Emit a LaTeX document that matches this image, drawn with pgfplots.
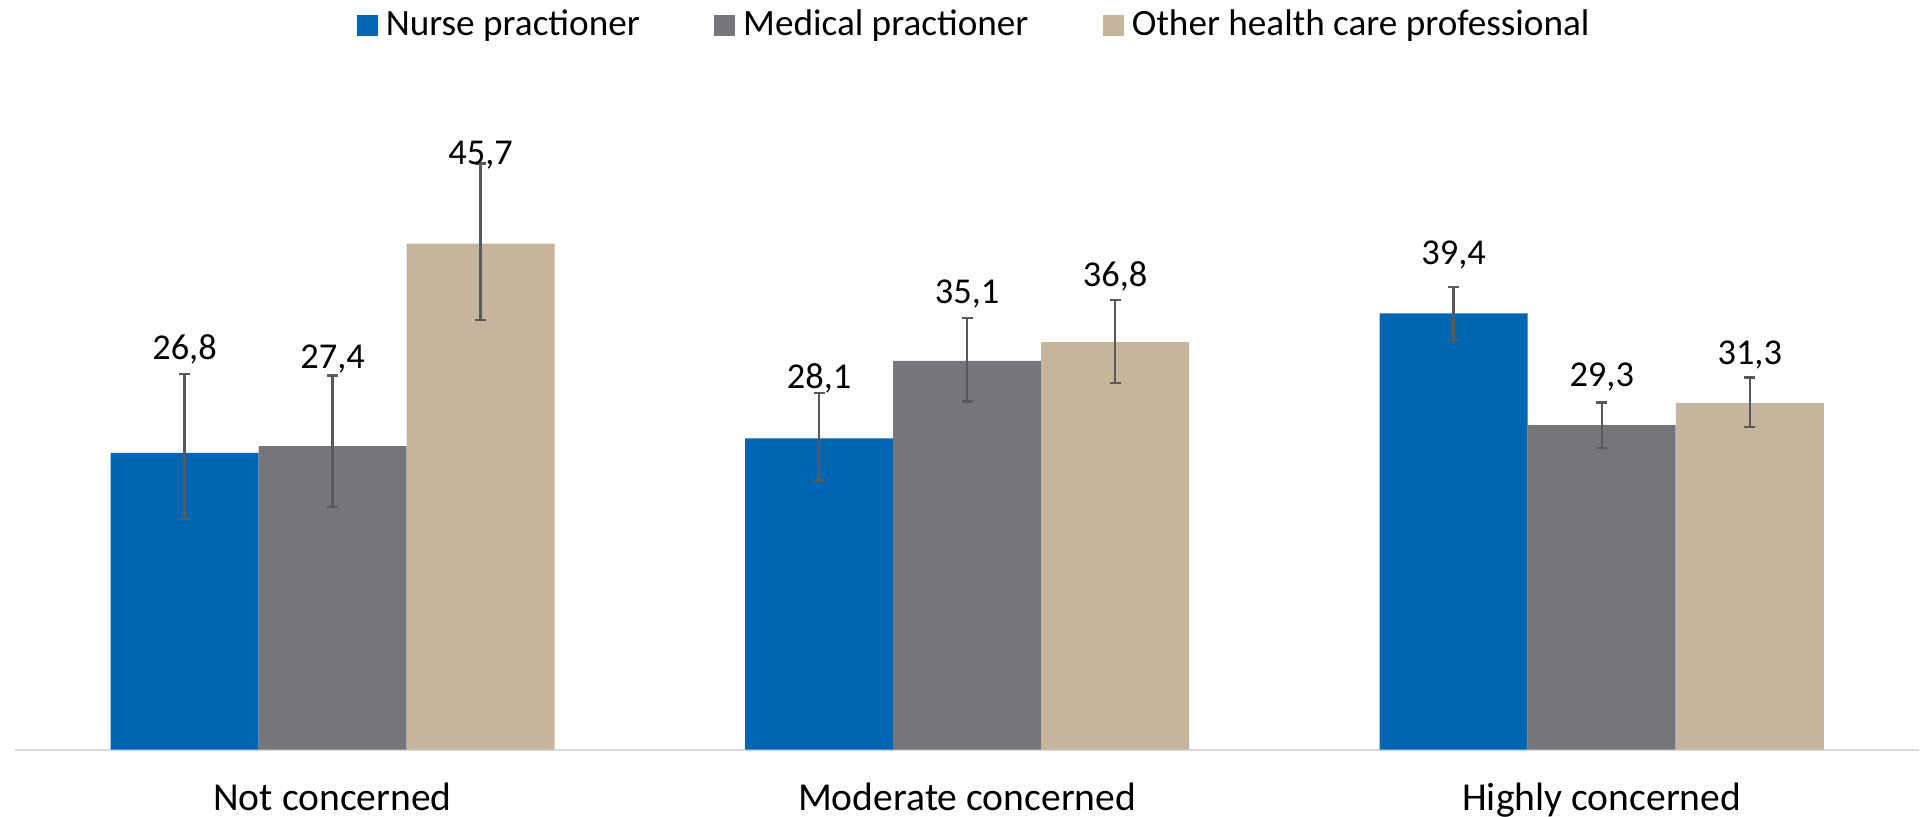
\documentclass[border=0pt]{standalone}
\usepackage{pgfplots}
\pgfplotsset{compat=1.18}
\usepackage{pgfplotstable}
\usepackage{fontspec}
\setmainfont{Carlito}
\definecolor{nurse}{RGB}{0,102,179}
\definecolor{medical}{RGB}{117,118,122}
\definecolor{other}{RGB}{196,181,156}
\definecolor{errc}{RGB}{89,89,89}
\definecolor{axc}{RGB}{217,217,217}

% bars are placed at group position +/- one bar width (0.2333 x-units)
\pgfplotstableread{
x y ep em
-0.2333 26.8 7.1 6.0
0.7667 28.1 4.1 3.8
1.7667 39.4 2.4 2.4
}\nursetab
\pgfplotstableread{
x y ep em
0 27.4 6.4 5.5
1 35.1 3.9 3.65
2 29.3 2.05 2.05
}\medicaltab
\pgfplotstableread{
x y ep em
0.2333 45.7 7.25 6.9
1.2333 36.8 3.8 3.7
2.2333 31.3 2.3 2.15
}\othertab
\pgfplotstableread{
x y lab
-0.2333 35.23 26,8
0.7667 32.64 28,1
1.7667 43.78 39,4
}\nurselab
\pgfplotstableread{
x y lab
0 34.44 27,4
1 40.32 35,1
2 32.79 29,3
}\medicallab
\pgfplotstableread{
x y lab
0.2333 52.82 45,7
1.2333 41.82 36,8
2.2333 34.75 31,3
}\otherlab

\begin{document}
\begin{tikzpicture}
\useasboundingbox (-3.825pt,-16.625pt) rectangle (477.15pt,187.375pt);
\begin{axis}[
  at={(0,0)}, anchor=south west,
  scale only axis, width=475.9pt, height=166.05pt,
  xmin=-0.5, xmax=2.5, ymin=0, ymax=60,
  axis x line*=bottom, axis y line=none,
  x axis line style={draw=axc, line width=0.5pt, -},
  xtick={0,1,2},
  xticklabels={Not concerned, Moderate concerned, Highly concerned},
  major tick length=0pt,
  xticklabel style={anchor=base, yshift=-15.3pt, font=\fontsize{9.9}{12}\selectfont},
  legend style={at={(0.5,1)}, anchor=center, xshift=2.5pt, yshift=15pt, draw=none, fill=none,
    legend columns=-1, font=\fontsize{9.3}{11}\selectfont,
    /tikz/every even column/.append style={column sep=16.6pt}},
  legend image code/.code={\fill[#1, draw=none] (0pt,-2.6pt) rectangle (5.25pt,2.6pt);},
  error bars/error bar style={errc, line width=0.6pt},
  error bars/error mark options={rotate=90, mark size=1.4pt, errc, line width=0.6pt},
  clip=false,
]
\addplot[ybar, bar width=37pt, bar shift=0pt, fill=nurse, draw=none,
  error bars/.cd, y dir=both, y explicit]
  table[x=x, y=y, y error plus=ep, y error minus=em] {\nursetab};
\addplot[ybar, bar width=37pt, bar shift=0pt, fill=medical, draw=none,
  error bars/.cd, y dir=both, y explicit]
  table[x=x, y=y, y error plus=ep, y error minus=em] {\medicaltab};
\addplot[ybar, bar width=37pt, bar shift=0pt, fill=other, draw=none,
  error bars/.cd, y dir=both, y explicit]
  table[x=x, y=y, y error plus=ep, y error minus=em] {\othertab};
\legend{Nurse practioner, Medical practioner, Other health care professional}

\pgfplotsset{labelplot/.style={forget plot, only marks, mark=none, nodes near coords,
  point meta=explicit symbolic,
  every node near coord/.append style={anchor=base, inner sep=0pt, text=black,
    font=\fontsize{9.1}{11}\selectfont}}}
\addplot[labelplot] table[x=x, y=y, meta=lab] {\nurselab};
\addplot[labelplot] table[x=x, y=y, meta=lab] {\medicallab};
\addplot[labelplot] table[x=x, y=y, meta=lab] {\otherlab};
\end{axis}
\end{tikzpicture}
\end{document}
